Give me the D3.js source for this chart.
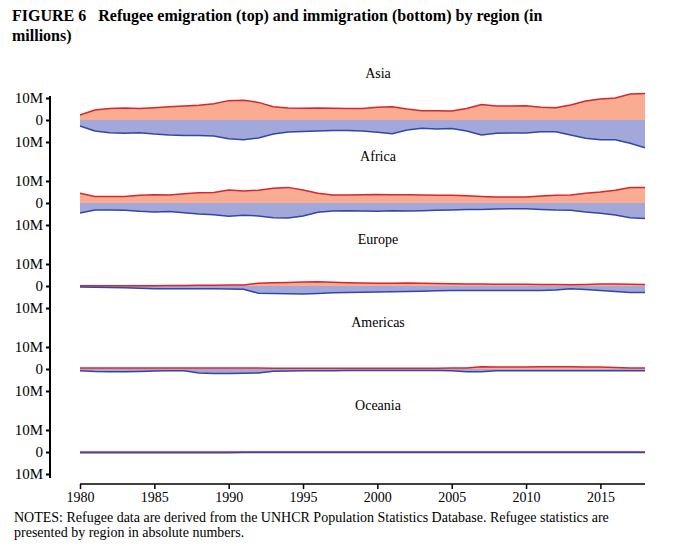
<!DOCTYPE html>
<html><head><meta charset="utf-8">
<script src="https://cdn.jsdelivr.net/npm/d3@7"></script>
<style>body{margin:0;background:#fff}</style>
</head><body><div id="chart"></div>
<script>
const years = d3.range(1980, 2019);
const regions = ["Asia", "Africa", "Europe", "Americas", "Oceania"];
const asiaEmig = [2.3,4.5,5.2,5.5,5.2,5.6,6,6.4,6.7,7.4,8.8,9,8,6,5.5,5.3,5.4,5.3,5.2,5.2,5.8,6,5,4.2,4.2,4.1,5.2,7,6.4,6.4,6.5,5.8,5.6,6.8,8.6,9.5,10,11.8,12];
const asiaImm = [2.7,5,5.8,6,5.8,6.4,6.8,7,7.1,7.3,8.5,9,8.2,6.4,5.5,5.2,5,4.8,4.8,5,5.6,6.2,4.5,3.8,4.1,3.9,5,6.8,6,5.9,5.9,5.3,5.3,6.8,8.3,9,9,10.6,12.6];
const africaEmig = [4.4,3,2.9,2.9,3.5,3.8,3.6,4.2,4.7,4.8,5.9,5.5,5.8,6.7,7.1,5.9,4.4,3.6,3.6,3.8,3.9,3.8,3.8,3.6,3.5,3.5,3.3,3,2.7,2.7,2.7,3.2,3.5,3.6,4.4,5,5.8,7,7];
const africaImm = [4.5,3.2,3.2,3.3,3.8,4.1,3.9,4.4,5,5.3,6,5.6,5.9,6.7,6.8,5.9,4.2,3.6,3.5,3.6,3.8,3.5,3.6,3.5,3.3,3.2,3,2.9,2.7,2.6,2.6,2.9,3.2,3.3,4.1,4.7,5.5,6.7,7.1];
const europeEmig = [0.1,0.1,0.1,0.1,0.1,0.1,0.2,0.2,0.3,0.3,0.4,0.5,1.2,1.5,1.6,1.8,1.9,1.7,1.5,1.4,1.3,1.2,1.4,1.3,1.1,1,0.9,0.9,0.8,0.8,0.8,0.7,0.7,0.6,0.7,0.9,0.9,0.8,0.7];
const europeImm = [0.5,0.6,0.7,0.8,1,1.2,1.2,1.2,1.2,1.3,1.4,1.5,3.3,3.4,3.5,3.6,3.4,3.1,2.9,2.8,2.7,2.6,2.5,2.4,2.2,2,2,2,2,2,2,2,1.8,1.2,1.6,2,2.5,2.9,3];
const americasEmig = [0.4,0.4,0.4,0.4,0.4,0.4,0.4,0.4,0.4,0.4,0.4,0.4,0.4,0.3,0.3,0.3,0.3,0.3,0.3,0.3,0.3,0.3,0.3,0.3,0.3,0.4,0.5,1,0.9,0.9,0.9,1,1,1,0.9,0.9,0.7,0.5,0.5];
const americasImm = [0.8,1.1,1.2,1.2,1.1,0.9,0.8,0.8,1.8,2,2,1.9,1.8,1,0.9,0.8,0.8,0.8,0.7,0.7,0.7,0.7,0.7,0.7,0.7,0.8,1.3,1.2,0.8,0.8,0.8,0.8,0.8,0.8,0.8,0.8,0.8,0.8,0.8];
const oceaniaEmig = years.map(() => 0.05);
const oceaniaImm = [0.3,0.3,0.3,0.3,0.3,0.3,0.3,0.3,0.3,0.3,0.3,0.2,0.2,0.2,0.2,0.2,0.2,0.2,0.2,0.2,0.2,0.2,0.2,0.2,0.2,0.2,0.2,0.2,0.2,0.2,0.2,0.2,0.2,0.2,0.2,0.2,0.2,0.2,0.2];
const emig = [asiaEmig, africaEmig, europeEmig, americasEmig, oceaniaEmig];
const imm = [asiaImm, africaImm, europeImm, americasImm, oceaniaImm];
const xTicks = [1980, 1985, 1990, 1995, 2000, 2005, 2010, 2015];

const W = 682, H = 546;
const svg = d3.select('#chart').append('svg').attr('width', W).attr('height', H)
    .style('font-family', '"Liberation Serif", "DejaVu Serif", serif');

const t1 = svg.append('text').attr('x', 12).attr('y', 21).attr('font-size', 16).attr('font-weight', 'bold');
t1.append('tspan').text('FIGURE 6');
t1.append('tspan').attr('dx', 12).text('Refugee emigration (top) and immigration (bottom) by region (in');
svg.append('text').attr('x', 12).attr('y', 41).attr('font-size', 16).attr('font-weight', 'bold')
    .text('millions)');

const x = d3.scaleLinear().domain([1980, 2018]).range([80, 645]);
const axisX = 50, zero0 = 120, step = 83;

regions.forEach((r, i) => {
    const z = zero0 + i * step;
    const y = d3.scaleLinear().domain([-10, 10]).range([z + 22, z - 22]);
    const g = svg.append('g');
    g.append('text').attr('x', 378).attr('y', z - 42).attr('text-anchor', 'middle')
        .attr('font-size', 14).text(r);
    const areaUp = d3.area().x((d, j) => x(years[j])).y0(y(0)).y1(d => y(d));
    const areaDn = d3.area().x((d, j) => x(years[j])).y0(y(0)).y1(d => y(-d));
    g.append('path').datum(emig[i]).attr('d', areaUp).attr('fill', '#f9a88c').attr('fill-opacity', 0.95);
    g.append('path').datum(imm[i]).attr('d', areaDn).attr('fill', '#9ea3d9').attr('fill-opacity', 0.95);
    g.append('path').datum(emig[i]).attr('d', d3.line().x((d, j) => x(years[j])).y(d => y(d)))
        .attr('fill', 'none').attr('stroke', '#d8262c').attr('stroke-width', 1.5);
    g.append('path').datum(imm[i]).attr('d', d3.line().x((d, j) => x(years[j])).y(d => y(-d)))
        .attr('fill', 'none').attr('stroke', '#34479f').attr('stroke-width', 1.5);
    const ax = g.append('g').attr('transform', `translate(${axisX},0)`)
        .call(d3.axisLeft(y).tickValues([-10, 0, 10]).tickSize(4)
            .tickFormat(d => d === 0 ? '0' : '10M'));
    ax.select('.domain').remove();
    ax.selectAll('line').attr('stroke', '#000').attr('stroke-width', 2);
    ax.selectAll('text').attr('font-size', 15).attr('font-family', '"Liberation Serif", serif').attr('fill', '#000');
});

svg.append('line').attr('x1', axisX).attr('x2', axisX).attr('y1', 96).attr('y2', 478)
    .attr('stroke', '#000').attr('stroke-width', 2);

const xa = svg.append('g').attr('transform', 'translate(0,484)')
    .call(d3.axisBottom(x).tickValues(xTicks).tickFormat(d3.format('d')).tickSize(5));
xa.select('.domain').attr('d', `M${x(1980)},0H${x(2018)}`).attr('stroke-width', 1.5);
xa.selectAll('line').attr('stroke-width', 1.5);
xa.selectAll('text').attr('font-size', 14).attr('font-family', '"Liberation Serif", serif');

svg.append('text').attr('x', 14).attr('y', 522).attr('font-size', 14)
    .text('NOTES: Refugee data are derived from the UNHCR Population Statistics Database. Refugee statistics are');
svg.append('text').attr('x', 14).attr('y', 537).attr('font-size', 14)
    .text('presented by region in absolute numbers.');
</script></body></html>
